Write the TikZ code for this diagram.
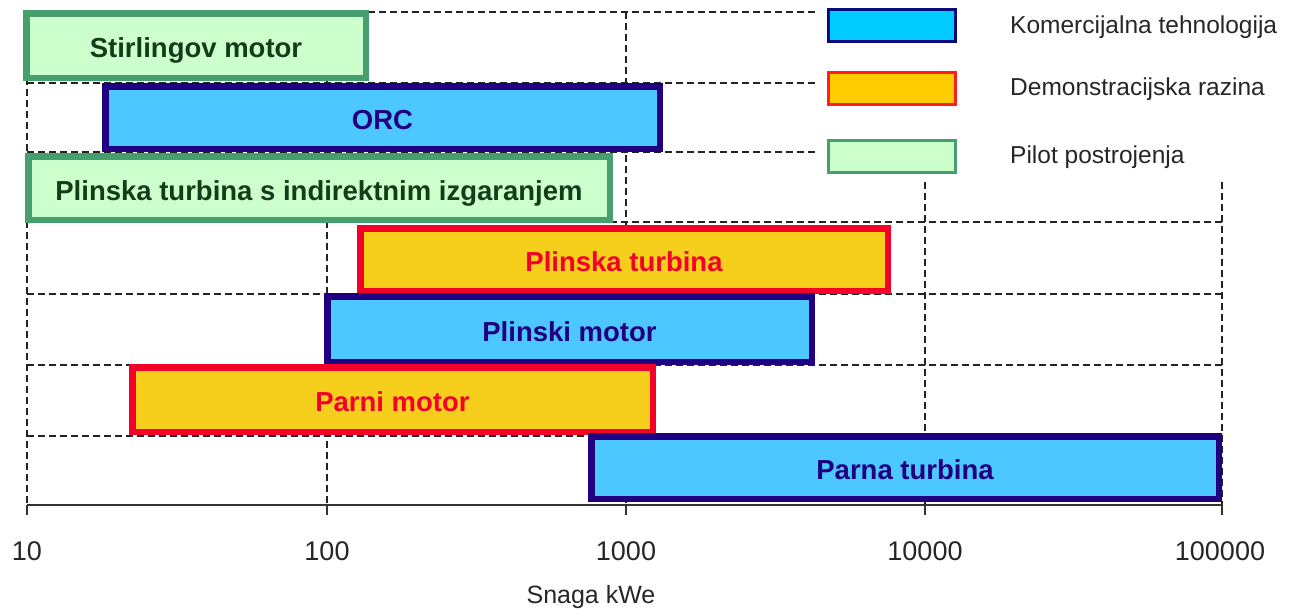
\documentclass[tikz,border=0pt]{standalone}
\usepackage{fontspec}
\setmainfont{Liberation Sans}
\definecolor{comfill}{RGB}{77,199,255}
\definecolor{comdraw}{RGB}{32,0,128}
\definecolor{demofill}{RGB}{246,206,28}
\definecolor{demodraw}{RGB}{245,0,40}
\definecolor{pilfill}{RGB}{204,255,204}
\definecolor{pildraw}{RGB}{70,160,110}
\definecolor{piltext}{RGB}{20,60,25}
\definecolor{lcomfill}{RGB}{0,204,255}
\definecolor{lcomdraw}{RGB}{10,10,120}
\definecolor{ldemofill}{RGB}{255,204,0}
\definecolor{ldemodraw}{RGB}{255,30,30}
\definecolor{gridcol}{RGB}{35,35,35}
\begin{document}
\begin{tikzpicture}[x=1pt,y=-1pt,
  bar/.style={rectangle, inner sep=0pt, outer sep=0pt, line width=6.5pt,
    text height=24.5pt, text depth=0pt,
    font=\fontsize{27.5}{33}\selectfont\bfseries},
  combar/.style={bar, draw=comdraw, fill=comfill, text=comdraw},
  demobar/.style={bar, draw=demodraw, fill=demofill, text=demodraw},
  pilbar/.style={bar, draw=pildraw, fill=pilfill, text=piltext},
  legbox/.style={rectangle, inner sep=0pt, outer sep=0pt, line width=3pt,
    minimum width=127pt, minimum height=32pt},
  legtext/.style={anchor=west, inner sep=0pt, font=\fontsize{24.5}{29}\selectfont, text=black!85},
  ticklab/.style={inner sep=0pt, font=\fontsize{27}{32}\selectfont, text=black!85},
  gridline/.style={draw=gridcol, line width=1.7pt, dash pattern=on 7pt off 4pt},
  axisline/.style={draw=black!80, line width=1.7pt}]
\useasboundingbox (0,0) rectangle (1291,614);
% grid
\foreach \yy in {12,83,152} \draw[gridline] (27,\yy) -- (815,\yy);
\foreach \yy in {222,294,365,436} \draw[gridline] (27,\yy) -- (1222,\yy);
\foreach \xx in {27,327,626} \draw[gridline] (\xx,12) -- (\xx,505);
\foreach \xx in {925,1222} \draw[gridline] (\xx,182) -- (\xx,505);
% axis
\draw[axisline] (27,505) -- (1222,505);
\foreach \xx in {27,327,626,925,1222} \draw[axisline] (\xx,505) -- (\xx,515);
\node[ticklab] (t1) at (27,551) {10};
\node[ticklab] (t2) at (327,551) {100};
\node[ticklab] (t3) at (626,551) {1000};
\node[ticklab] (t4) at (925,551) {10000};
\node[ticklab] (t5) at (1220,551) {100000};
\node[ticklab, font=\fontsize{25}{30}\selectfont] (xlab) at (591,597) {Snaga kWe};
% bars
\node[pilbar, minimum width=339.5pt, minimum height=64.5pt] (stir) at (196,45.5) {Stirlingov motor};
\node[combar, minimum width=554.5pt, minimum height=62.5pt] (orc) at (382.5,117.5) {ORC};
\node[pilbar, minimum width=581.5pt, minimum height=63.5pt] (ptind) at (319,188) {Plinska turbina s indirektnim izgaranjem};
\node[demobar, minimum width=527.5pt, minimum height=62.5pt] (pt) at (624,259.5) {Plinska turbina};
\node[combar, minimum width=484.5pt, minimum height=65.5pt] (pm) at (569.5,329) {Plinski motor};
\node[demobar, minimum width=520.5pt, minimum height=64.5pt] (parm) at (392.5,399.5) {Parni motor};
\node[combar, minimum width=627.5pt, minimum height=62.5pt] (part) at (905,467.5) {Parna turbina};
% legend
\node[legbox, draw=lcomdraw, fill=lcomfill] (lg1) at (892,25.5) {};
\node[legbox, draw=ldemodraw, fill=ldemofill] (lg2) at (892,88) {};
\node[legbox, draw=pildraw, fill=pilfill] (lg3) at (892,156.5) {};
\node[legtext] (lt1) at (1010,27) {Komercijalna tehnologija};
\node[legtext] (lt2) at (1010,89) {Demonstracijska razina};
\node[legtext] (lt3) at (1010,157) {Pilot postrojenja};
\end{tikzpicture}
\end{document}
